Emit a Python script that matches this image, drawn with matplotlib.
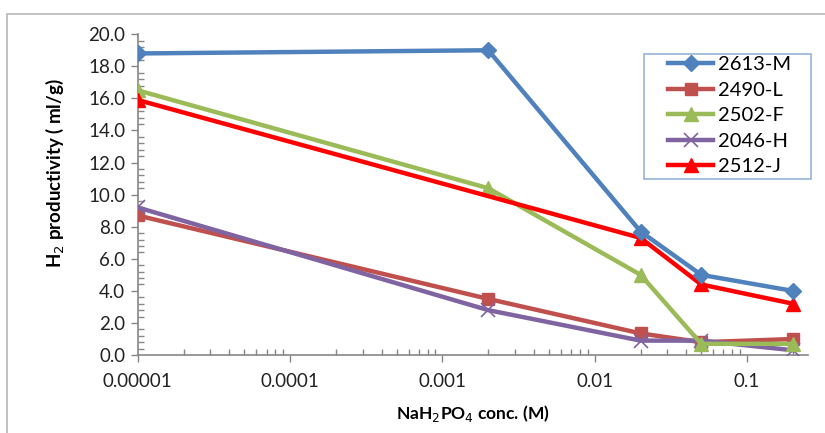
import matplotlib.pyplot as plt
from matplotlib.ticker import FixedLocator, MultipleLocator, NullFormatter, FuncFormatter
from matplotlib.patches import Rectangle

plt.rcParams['font.family'] = ['Lato', 'DejaVu Sans']

# Data
conc = [0.00001, 0.002, 0.02, 0.05, 0.2]
conc_j = [0.00001, 0.02, 0.05, 0.2]
m_2613 = [18.8, 19.0, 7.7, 5.0, 4.0]
l_2490 = [8.7, 3.5, 1.35, 0.8, 1.0]
f_2502 = [16.5, 10.4, 5.0, 0.7, 0.7]
h_2046 = [9.2, 2.8, 0.9, 0.9, 0.3]
j_2512 = [15.9, 7.3, 4.4, 3.2]

x_ticks = [0.00001, 0.0001, 0.001, 0.01, 0.1]
x_tick_labels = ['0.00001', '0.0001', '0.001', '0.01', '0.1']

W, H = 825, 433
fig = plt.figure(figsize=(8.25, 4.33), dpi=100)
ax = fig.add_axes([0.167, 0.180, 0.812, 0.741])

# Outer chart border (cropped at right and bottom)
fig.patches.append(Rectangle((7 / W, -0.1), 1.2, 1 - 14 / H + 0.1,
                             transform=fig.transFigure, fill=False,
                             edgecolor='#b8b8b8', linewidth=1.2))

lw = 3.2
ax.plot(conc, m_2613, color='#4F81BD', lw=lw, marker='D', ms=8, label='2613-M', zorder=5)
ax.plot(conc, l_2490, color='#C0504D', lw=lw, marker='s', ms=9, label='2490-L', zorder=3)
ax.plot(conc, f_2502, color='#9BBB59', lw=lw, marker='^', ms=10, label='2502-F', zorder=4)
ax.plot(conc, h_2046, color='#8064A2', lw=lw, marker='x', ms=10, mew=1.2, label='2046-H', zorder=3)
ax.plot(conc_j, j_2512, color='#FF0000', lw=lw, marker='^', ms=10, label='2512-J', zorder=4)

ax.set_xscale('log')
ax.set_xlim(0.00001, 0.25)
ax.set_ylim(0, 20)

ax.xaxis.set_major_locator(FixedLocator(x_ticks))
ax.set_xticklabels(x_tick_labels)
minor = [m * 10.0 ** e for e in range(-5, 0) for m in range(2, 10)]
ax.xaxis.set_minor_locator(FixedLocator([v for v in minor if v <= 0.25]))
ax.xaxis.set_minor_formatter(NullFormatter())

ax.yaxis.set_major_locator(MultipleLocator(2))
ax.yaxis.set_minor_locator(MultipleLocator(0.4))
ax.yaxis.set_major_formatter(FuncFormatter(lambda v, p: f'{v:.1f}'))

for s in ['top', 'right']:
    ax.spines[s].set_visible(False)
for s in ['left', 'bottom']:
    ax.spines[s].set_color('#868686')
    ax.spines[s].set_linewidth(1.2)

ax.tick_params(which='major', direction='out', length=5, color='#868686', width=1,
               labelsize=13.5, labelcolor='#222222')
ax.tick_params(which='minor', direction='in', length=4, color='#868686', width=1)
ax.tick_params(axis='x', which='major', pad=8)
ax.tick_params(axis='y', which='major', pad=4)

ax.set_xlabel('NaH$_2$PO$_4$ conc. (M)', fontsize=12.5, fontweight='bold')
ax.set_ylabel('H$_2$ productivity ( ml/g)', fontsize=13.5, fontweight='bold')
ax.xaxis.set_label_coords(0.5, -0.148)
ax.yaxis.set_label_coords(-0.107, 0.567)

# Legend: box drawn separately so the wide left padding matches
ax.add_patch(Rectangle((644 / W, 1 - 179 / H), 167 / W, 125 / H,
                       transform=fig.transFigure, fill=True, facecolor='white',
                       edgecolor='#95B3D7', linewidth=1.2, zorder=6, clip_on=False))
leg = ax.legend(loc='upper left', bbox_to_anchor=(668 / W, 1 - 56 / H),
                bbox_transform=fig.transFigure, fontsize=14.5, frameon=False,
                borderpad=0, labelspacing=0.42, handlelength=2.25,
                handletextpad=0.25, borderaxespad=0.0)
leg.set_zorder(7)

fig.savefig('out.png', dpi=100)
